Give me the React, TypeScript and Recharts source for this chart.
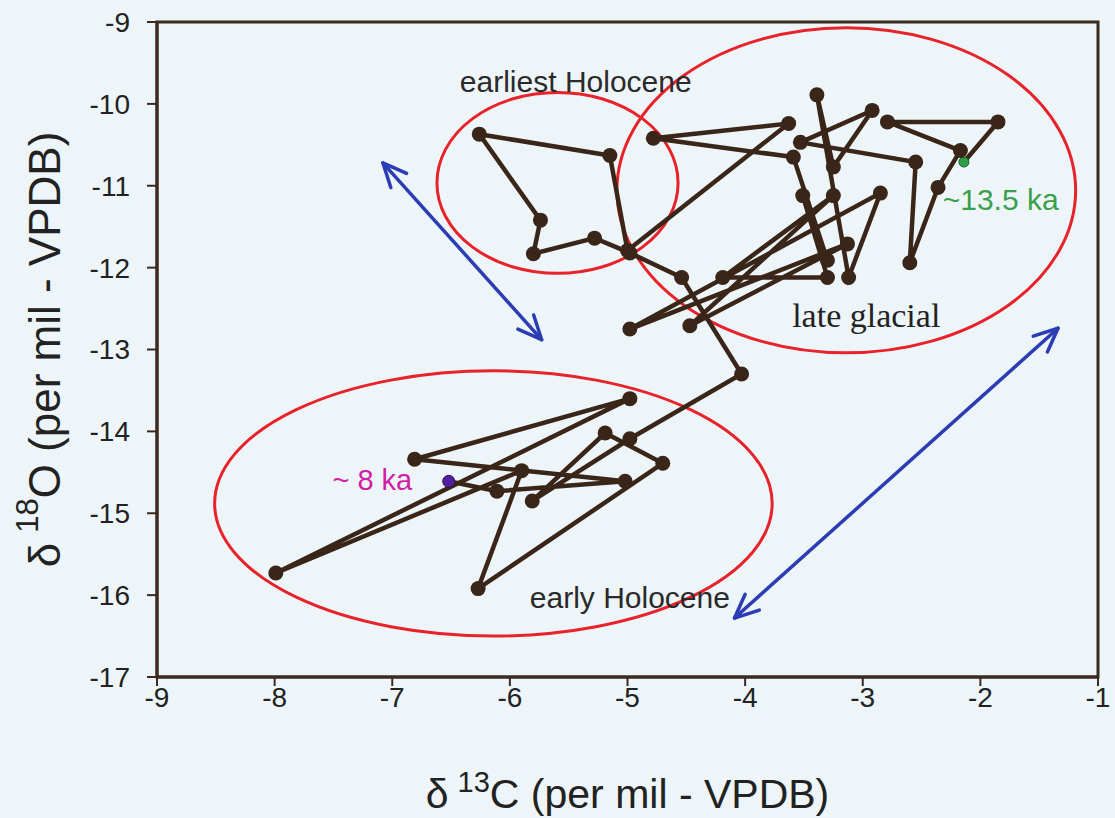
import {
  ScatterChart,
  Scatter,
  XAxis,
  YAxis,
  ReferenceArea,
  ReferenceLine,
  ReferenceDot,
} from "recharts";

// stalagmite isotope pairs, oldest (~13.5 ka) first, youngest (~8 ka) last
const d13C = [
  -2.14, -1.85, -2.79, -2.17, -2.36, -2.6, -2.55, -3.53, -2.92, -3.25,
  -3.39, -3.12, -2.85, -4.98, -3.13, -4.47, -3.25, -4.19, -3.3, -3.51,
  -3.3, -3.59, -4.78, -3.63, -5.0, -5.15, -6.26, -5.74, -5.8, -5.28,
  -4.98, -4.54, -4.03, -4.98, -5.81, -5.19, -4.7, -6.27, -5.9, -7.99,
  -4.98, -6.81, -5.02, -6.11, -6.52,
];
const d18O = [
  -10.71, -10.22, -10.22, -10.57, -11.02, -11.94, -10.71, -10.47, -10.08, -10.77,
  -9.89, -12.12, -11.09, -12.75, -11.71, -12.71, -11.12, -12.12, -12.12, -11.12,
  -11.91, -10.65, -10.42, -10.24, -11.79, -10.63, -10.37, -11.42, -11.83, -11.64,
  -11.82, -12.12, -13.3, -14.09, -14.85, -14.02, -14.39, -15.92, -14.48, -15.73,
  -13.6, -14.34, -14.61, -14.73, -14.61,
];

const xTicks = [-9, -8, -7, -6, -5, -4, -3, -2, -1];
const yTicks = [-17, -16, -15, -14, -13, -12, -11, -10, -9];

// zone outlines as [x1, x2, y1, y2]
const zoneEarliest = [-6.62, -4.57, -12.07, -9.86];
const zoneGlacial = [-5.09, -1.19, -13.04, -9.07];
const zoneEarly = [-8.51, -3.77, -16.5, -13.26];

// double arrows [xa, ya, xb, yb]
const arrowLeft = [-7.08, -10.72, -5.73, -12.88];
const arrowRight = [-1.34, -12.74, -4.09, -16.28];

const points = d13C.map((x, i) => ({
  x,
  y: d18O[i],
  kind: i === 0 ? "start" : i === d13C.length - 1 ? "end" : "mid",
}));

const INK = "#3a2519";
const AXIS = "#3b2a1f";
const SANS = "'Liberation Sans', Arial, sans-serif";

const Dot = (props: any) => {
  const { cx, cy, payload } = props;
  if (payload.kind === "start")
    return <circle cx={cx} cy={cy} r={5} fill="#2e9e48" stroke="#1d5a2a" strokeWidth={1} />;
  if (payload.kind === "end")
    return <circle cx={cx} cy={cy} r={6} fill="#5520a0" stroke="#2d1050" strokeWidth={1} />;
  return <circle cx={cx} cy={cy} r={7.5} fill={INK} />;
};

const Ellipse = (props: any) => {
  const { x, y, width, height } = props;
  return (
    <ellipse
      cx={x + width / 2}
      cy={y + height / 2}
      rx={width / 2}
      ry={height / 2}
      fill="none"
      stroke="#e8222a"
      strokeWidth={3}
    />
  );
};

const DoubleArrow = (props: any) => {
  const { x1, y1, x2, y2 } = props;
  const a = Math.atan2(y2 - y1, x2 - x1);
  const len = 26;
  const spread = 0.42;
  const head = (px: number, py: number, dir: number) =>
    `M${px + len * Math.cos(dir + spread)},${py + len * Math.sin(dir + spread)} L${px},${py} L${px + len * Math.cos(dir - spread)},${py + len * Math.sin(dir - spread)}`;
  return (
    <g stroke="#2b3cb4" strokeWidth={3.5} fill="none" strokeLinecap="round" strokeLinejoin="round">
      <line x1={x1} y1={y1} x2={x2} y2={y2} />
      <path d={head(x1, y1, a)} />
      <path d={head(x2, y2, a + Math.PI)} />
    </g>
  );
};

const note =
  (text: string, opts: { size: number; color: string; anchor: string; family?: string }) =>
  (props: any) => (
    <text
      x={props.cx}
      y={props.cy}
      fontSize={opts.size}
      fill={opts.color}
      textAnchor={opts.anchor}
      dominantBaseline="central"
      fontFamily={opts.family || SANS}
    >
      {text}
    </text>
  );

const XTitle = (props: any) => {
  const { x, y, width } = props.viewBox;
  return (
    <text x={x + width / 2} y={y + 131} textAnchor="middle" fontSize={41} fill="#222" fontFamily={SANS}>
      δ
      <tspan dx={9} dy={-16} fontSize={29}>13</tspan>
      <tspan dy={16}>C (per mil - VPDB)</tspan>
    </text>
  );
};

const YTitle = (props: any) => {
  const { y, height } = props.viewBox;
  const cx = 44;
  const cy = y + height / 2;
  return (
    <text
      x={cx}
      y={cy}
      transform={`rotate(-90 ${cx} ${cy})`}
      textAnchor="middle"
      dominantBaseline="central"
      fontSize={44}
      fill="#222"
      fontFamily={SANS}
    >
      δ
      <tspan dx={10} dy={-17} fontSize={31}>18</tspan>
      <tspan dy={17}>O (per mil - VPDB)</tspan>
    </text>
  );
};

export default function App() {
  const [ex1, ex2, ey1, ey2] = zoneEarliest;
  const [gx1, gx2, gy1, gy2] = zoneGlacial;
  const [hx1, hx2, hy1, hy2] = zoneEarly;
  return (
    <div
      style={{
        position: "absolute",
        left: 0,
        top: 0,
        width: 1115,
        height: 818,
        background: "#edf5f9",
      }}
    >
      <ScatterChart width={1115} height={818} margin={{ top: 22, right: 17, bottom: 0, left: 0 }}>
        <XAxis
          type="number"
          dataKey="x"
          domain={[-9, -1]}
          ticks={xTicks}
          interval={0}
          allowDataOverflow
          height={141}
          tickSize={9}
          tickMargin={1}
          axisLine={{ stroke: AXIS, strokeWidth: 3 }}
          tickLine={{ stroke: AXIS, strokeWidth: 2 }}
          tick={{ fontSize: 28, fill: "#222", fontFamily: SANS }}
          label={{ content: XTitle }}
        />
        <YAxis
          type="number"
          dataKey="y"
          domain={[-17, -9]}
          ticks={yTicks}
          interval={0}
          allowDataOverflow
          width={157}
          tickSize={10}
          tickMargin={17}
          axisLine={{ stroke: AXIS, strokeWidth: 3 }}
          tickLine={{ stroke: AXIS, strokeWidth: 2 }}
          tick={{ fontSize: 28, fill: "#222", fontFamily: SANS }}
          label={{ content: YTitle }}
        />
        <ReferenceArea x1={-9} x2={-1} y1={-17} y2={-9} fill="none" stroke={AXIS} strokeWidth={3} />
        <ReferenceArea x1={ex1} x2={ex2} y1={ey1} y2={ey2} shape={Ellipse} />
        <ReferenceArea x1={gx1} x2={gx2} y1={gy1} y2={gy2} shape={Ellipse} />
        <ReferenceArea x1={hx1} x2={hx2} y1={hy1} y2={hy2} shape={Ellipse} />
        <ReferenceLine
          segment={[
            { x: arrowLeft[0], y: arrowLeft[1] },
            { x: arrowLeft[2], y: arrowLeft[3] },
          ]}
          shape={DoubleArrow}
        />
        <ReferenceLine
          segment={[
            { x: arrowRight[0], y: arrowRight[1] },
            { x: arrowRight[2], y: arrowRight[3] },
          ]}
          shape={DoubleArrow}
        />
        <Scatter
          data={points}
          line={{ stroke: INK, strokeWidth: 4.5 }}
          lineType="joint"
          shape={Dot}
          isAnimationActive={false}
        />
        <ReferenceDot x={-5.44} y={-9.73} r={0} shape={note("earliest Holocene", { size: 30, color: "#2a2a2a", anchor: "middle" })} />
        <ReferenceDot x={-2.97} y={-12.59} r={0} shape={note("late glacial", { size: 34, color: "#222", anchor: "middle", family: "'Liberation Serif', 'Times New Roman', serif" })} />
        <ReferenceDot x={-4.98} y={-16.03} r={0} shape={note("early Holocene", { size: 30, color: "#2a2a2a", anchor: "middle" })} />
        <ReferenceDot x={-2.32} y={-11.17} r={0} shape={note("~13.5 ka", { size: 30, color: "#3aa04c", anchor: "start" })} />
        <ReferenceDot x={-6.83} y={-14.59} r={0} shape={note("~ 8 ka", { size: 29, color: "#d21ea6", anchor: "end" })} />
      </ScatterChart>
    </div>
  );
}
